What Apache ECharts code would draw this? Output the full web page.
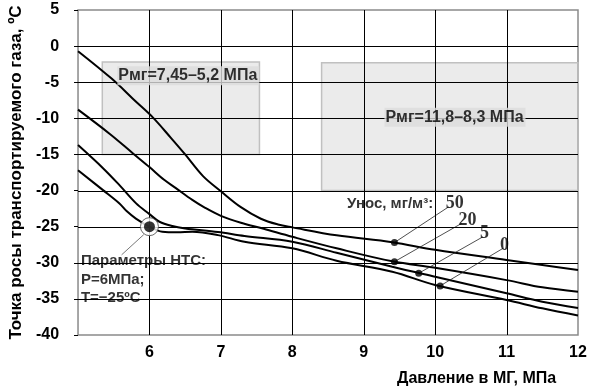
<!DOCTYPE html>
<html><head><meta charset="utf-8">
<script src="https://cdn.jsdelivr.net/npm/echarts@6/dist/echarts.min.js"></script>
<style>html,body{margin:0;padding:0;background:#fff}#c{width:590px;height:391px}</style>
</head><body><div id="c"></div>
<script>
// ---- data (x: pressure in МГ, МПа; y: dew point, ºС) ----
const curve50 = [[5.0,-0.7],[5.47,-4.5],[5.79,-7.5],[6.05,-9.9],[6.3,-12.7],[6.5,-15.0],[6.75,-18.0],[7.0,-20.1],[7.28,-22.3],[7.56,-23.9],[7.8,-24.7],[8.0,-25.1],[8.62,-26.2],[9.4,-27.15],[10.0,-28.2],[11.0,-29.6],[11.5,-30.3],[12.0,-31.0]];
const curve20 = [[5.0,-8.8],[5.45,-12.2],[5.77,-14.86],[6.0,-16.75],[6.21,-18.55],[6.37,-19.66],[6.6,-21.3],[6.78,-22.4],[7.0,-23.5],[7.28,-24.45],[7.6,-25.3],[8.0,-26.4],[8.62,-28.0],[9.4,-29.8],[10.0,-30.7],[11.0,-32.4],[11.5,-33.4],[12.0,-34.0]];
const curve5  = [[5.0,-13.7],[5.35,-16.9],[5.58,-19.25],[5.81,-21.74],[6.0,-23.26],[6.14,-24.32],[6.32,-24.92],[6.5,-25.24],[6.96,-25.75],[7.33,-26.3],[8.0,-27.09],[8.62,-28.61],[9.4,-30.55],[10.0,-31.94],[11.0,-34.23],[11.5,-35.4],[12.0,-36.27]];
const curve0  = [[5.0,-17.2],[5.35,-19.94],[5.58,-21.78],[5.68,-22.84],[5.81,-23.88],[6.0,-25.0],[6.18,-25.71],[6.39,-25.78],[6.6,-25.71],[6.96,-26.17],[7.33,-27.09],[8.0,-28.0],[8.62,-29.72],[9.4,-31.24],[10.0,-33.08],[11.0,-35.16],[11.5,-36.31],[12.0,-37.31]];
const seriesNames = ['50','20','5','0'];
const curveDots = [[9.43,-27.2],[9.43,-29.85],[9.77,-31.45],[10.07,-33.2]];
const leaderEnds = [[10.19,-22.25],[10.37,-24.55],[10.67,-26.4],[10.95,-28.0]];
const ntsPoint = [6, -25];
const ntsLeader = [[5.92,-26.1],[5.61,-28.9]];
const zones = [[5.34,-2.2,7.54,-15.0],[8.41,-2.3,12.0,-20.0]];
const zoneLabels = ['Рмг=7,45–5,2 МПа','Рмг=11,8–8,3 МПа'];
const zoneLabelAnchors = [[5.55,-4.09],[9.29,-9.86]];
const xTickValues = [6,7,8,9,10,11,12];
const yTickValues = [5,0,-5,-10,-15,-20,-25,-30,-35,-40];
const xGridValues = [6,7,8,9,10,11];
const yGridValues = [0,-5,-10,-15,-20,-25,-30,-35];
const yTitle = 'Точка росы транспортируемого газа, ºС';
const xTitle = 'Давление в МГ, МПа';
const unosText = 'Унос, мг/м³:';
const unosAnchor = [9.37,-21.87];
const ntsText = 'Параметры НТС:\nР=6МПа;\nТ=−25ºС';
const ntsTextAnchor = [5.04,-32.32];

const FONT = "'Liberation Sans', Arial, sans-serif";
const chart = echarts.init(document.getElementById('c'), null, {renderer:'canvas'});

const lineSeries = [curve50, curve20, curve5, curve0].map((d, i) => ({
  type:'line', name: seriesNames[i], data: d, smooth: 0.35, symbol:'none', z: 6,
  lineStyle:{color:'#000', width:2}
}));

const gridData = xGridValues.map(v => [0, v]).concat(yGridValues.map(v => [1, v]));

chart.setOption({
  animation:false,
  backgroundColor:'#fff',
  title:{text:xTitle, left:397, top:371, textStyle:{fontFamily:FONT, fontWeight:'bold', fontSize:16, color:'#000'}, padding:0},
  grid:{left:71, top:10, width:507, height:325, show:true, borderColor:'#8a8a8a', borderWidth:1.5, backgroundColor:'transparent'},
  xAxis:{type:'value', min:5, max:12, interval:1,
    axisLine:{show:false}, axisTick:{show:false},
    axisLabel:{margin:10, fontFamily:FONT, fontWeight:'bold', fontSize:16, color:'#000',
      formatter: v => xTickValues.includes(v) ? String(v) : ''},
    splitLine:{show:false}},
  yAxis:{type:'value', min:-40, max:5, interval:5,
    name:yTitle, nameLocation:'middle', nameGap:47,
    nameTextStyle:{fontFamily:FONT, fontWeight:'bold', fontSize:17, color:'#000'},
    axisLine:{show:false}, axisTick:{show:true, length:4, lineStyle:{color:'#000'}},
    axisLabel:{margin:19, fontFamily:FONT, fontWeight:'bold', fontSize:16, color:'#000',
      formatter: v => yTickValues.includes(v) ? String(v) : ''},
    splitLine:{show:false}},
  series:[
    {type:'custom', z:2, data: zones, silent:true, encode:{x:[0,2], y:[1,3]},
      renderItem:(params, api) => {
        const p1 = api.coord([api.value(0), api.value(1)]);
        const p2 = api.coord([api.value(2), api.value(3)]);
        return {type:'rect', shape:{x:p1[0], y:p1[1], width:p2[0]-p1[0], height:p2[1]-p1[1]},
          style:{fill:'rgba(120,120,120,0.15)', stroke:'#c0c0c0', lineWidth:1.5}};
      }},
    ...lineSeries,
    {type:'lines', coordinateSystem:'cartesian2d', z:7, silent:true,
      lineStyle:{color:'#222', width:0.8, opacity:1},
      data: curveDots.map((d,i) => ({coords:[d, leaderEnds[i]]})).concat([{coords: ntsLeader, lineStyle:{color:'#555', width:0.8}}])},
    {type:'scatter', z:8, symbol:'circle', symbolSize:7, itemStyle:{color:'#000'}, data: curveDots},
    {type:'scatter', z:8, symbolSize:0, data: leaderEnds.map((d,i) => ({value:d, name:seriesNames[i]})),
      label:{show:true, position:'right', distance:0, offset:[-3,-3], formatter: p => p.name,
        fontFamily:"'Liberation Serif', 'Times New Roman', serif", fontWeight:'bold', fontSize:18, color:'#000'}},
    {type:'custom', z:10, data: gridData, silent:true, encode:{x:-1, y:-1}, clip:false,
      renderItem:(params, api) => {
        const cs = params.coordSys;
        const kind = api.value(0), v = api.value(1);
        if (kind === 0) {
          const x = Math.round(api.coord([v, -40])[0]) + 0.5;
          return {type:'line', shape:{x1:x, y1:cs.y, x2:x, y2:cs.y+cs.height}, style:{stroke:'#000', lineWidth:1}};
        }
        const y = Math.round(api.coord([5, v])[1]) + 0.5;
        return {type:'line', shape:{x1:cs.x, y1:y, x2:cs.x+cs.width, y2:y}, style:{stroke:'#000', lineWidth:1}};
      }},
    {type:'scatter', z:12, symbol:'circle', symbolSize:18, itemStyle:{color:'#fff', borderColor:'#444', borderWidth:1}, data:[ntsPoint]},
    {type:'scatter', z:13, symbol:'circle', symbolSize:11, itemStyle:{color:'#000'}, data:[ntsPoint]},
    {type:'scatter', z:11, symbolSize:0, silent:true,
      data: zoneLabelAnchors.map((d,i) => ({value:d, name:zoneLabels[i]})),
      label:{show:true, position:'right', distance:0, formatter: p => p.name,
        fontFamily:FONT, fontWeight:'bold', fontSize:16, color:'#000', backgroundColor:'#dcdcdc',
        padding:[2,2,1,1]}},
    {type:'scatter', z:11, symbolSize:0, silent:true,
      data:[{value:unosAnchor, name:unosText}],
      label:{show:true, position:'inside', formatter: p => p.name,
        fontFamily:FONT, fontWeight:'bold', fontSize:15, color:'#000'}},
    {type:'scatter', z:11, symbolSize:0, silent:true,
      data:[{value:ntsTextAnchor, name:ntsText}],
      label:{show:true, position:'right', distance:0, formatter: p => p.name, lineHeight:18.5,
        fontFamily:FONT, fontWeight:'bold', fontSize:15, color:'#000'}}
  ]
});
</script></body></html>
